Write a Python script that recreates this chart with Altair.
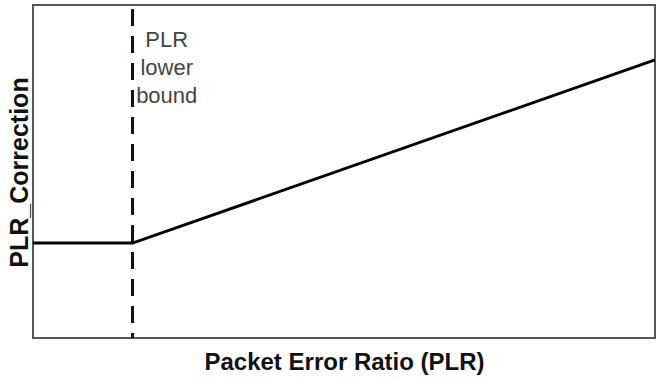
import altair as alt
import pandas as pd

# data
line_x = [0, 16, 100]
line_y = [28.5, 28.5, 83.5]
bound_x = [16]
label_text = ["PLR\nlower\nbound"]
label_x = [21.5]
label_y = [89.5]

line_df = pd.DataFrame({"x": line_x, "y": line_y})
bound_df = pd.DataFrame({"x": bound_x})
label_df = pd.DataFrame({"x": label_x, "y": label_y, "t": label_text})

xs = alt.Scale(domain=[0, 100], nice=False, zero=False)
ys = alt.Scale(domain=[0, 100], nice=False, zero=False)

xaxis = alt.Axis(labels=False, ticks=False, domain=False, grid=False,
                 title="Packet Error Ratio (PLR)", titleFont="Liberation Sans",
                 titleFontSize=24, titleFontWeight="bold", titleColor="#111",
                 titleBaseline="alphabetic", titlePadding=31)
yaxis = alt.Axis(labels=False, ticks=False, domain=False, grid=False,
                 title="PLR_Correction", titleFont="Liberation Sans",
                 titleFontSize=25, titleFontWeight="bold", titleColor="#111",
                 titleBaseline="alphabetic", titlePadding=6, titleY=167)

line = alt.Chart(line_df).mark_line(color="black", strokeWidth=3).encode(
    x=alt.X("x:Q", scale=xs, axis=xaxis),
    y=alt.Y("y:Q", scale=ys, axis=yaxis),
)

bound = alt.Chart(bound_df).mark_rule(color="#111", strokeWidth=3, strokeDash=[17, 10],
                                       strokeDashOffset=-4).encode(
    x=alt.X("x:Q", scale=xs)
)

label = alt.Chart(label_df).mark_text(
    font="Liberation Sans", fontSize=22, color="#444", align="center",
    baseline="middle", lineBreak="\n", lineHeight=28
).encode(
    x=alt.X("x:Q", scale=xs),
    y=alt.Y("y:Q", scale=ys),
    text="t:N",
)

chart = alt.layer(line, bound, label).properties(
    width=622, height=333,
    autosize=alt.AutoSizeParams(type="none"),
    padding={"left": 33, "top": 5, "right": 6, "bottom": 43},
    background="white",
).configure_view(stroke="#555", strokeWidth=2)

chart.save("out.html", embed_options={"renderer": "svg", "actions": False})
